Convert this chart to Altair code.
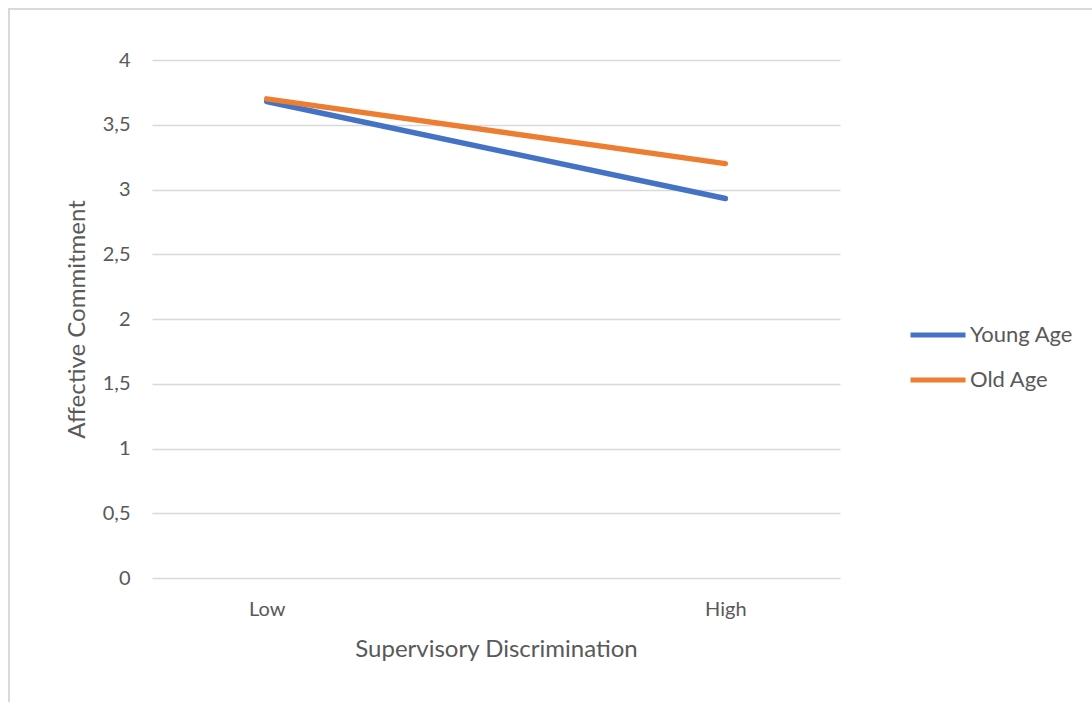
import altair as alt
import pandas as pd

# Supervisory discrimination x age interaction on affective commitment
levels = ["Low", "High"]
young_age = [3.68, 2.93]
old_age = [3.70, 3.20]
series_names = ["Young Age", "Old Age"]
series_colors = ["#4472C4", "#ED7D31"]
y_ticks = [0, 0.5, 1, 1.5, 2, 2.5, 3, 3.5, 4]

rows = []
for name, vals in zip(series_names, [young_age, old_age]):
    for lvl, v in zip(levels, vals):
        rows.append({"Discrimination": lvl, "Commitment": v, "Group": name})
df = pd.DataFrame(rows)

FONT = "Lato"
GREY = "#595959"
GRID = "#d9d9d9"

lines = alt.Chart(df).mark_line(strokeWidth=5.5, strokeCap="round").encode(
    x=alt.X(
        "Discrimination:N",
        sort=levels,
        scale=alt.Scale(type="point", padding=0.25),
        axis=alt.Axis(
            title="Supervisory Discrimination",
            labelAngle=0,
            labelPadding=21,
            titlePadding=18,
            ticks=False,
            domain=False,
            grid=False,
        ),
    ),
    y=alt.Y(
        "Commitment:Q",
        scale=alt.Scale(domain=[0, 4], nice=False),
        axis=alt.Axis(
            title="Affective Commitment",
            values=y_ticks,
            labelExpr="replace(toString(datum.value), '.', ',')",
            labelPadding=22,
            titlePadding=13,
            ticks=False,
            domain=False,
            grid=True,
            gridColor=GRID,
            gridWidth=1.5,
        ),
    ),
    color=alt.Color(
        "Group:N",
        sort=series_names,
        scale=alt.Scale(domain=series_names, range=series_colors),
        legend=alt.Legend(
            title=None,
            orient="none",
            legendX=756,
            legendY=245,
            symbolType="stroke",
            symbolSize=3025,
            symbolStrokeWidth=5,
            labelOffset=2,
            rowPadding=4,
        ),
    ),
    detail="Group:N",
)

# outer frame around the chart area
frame = alt.Chart(pd.DataFrame({"k": [0]})).mark_rect(
    fill=None, stroke="#d9d9d9", strokeWidth=2
).encode(
    x=alt.value(-143),
    x2=alt.value(960),
    y=alt.value(-51),
    y2=alt.value(700),
)

chart = (
    alt.layer(frame, lines)
    .properties(
        width=688,
        height=518,
        padding={"left": 152, "top": 60, "right": 252, "bottom": 124},
        autosize=alt.AutoSizeParams(type="none"),
        background="white",
    )
    .configure_view(stroke=None)
    .configure_axis(
        labelFont=FONT,
        titleFont=FONT,
        labelFontSize=20,
        titleFontSize=24,
        labelColor=GREY,
        titleColor=GREY,
        titleFontWeight="normal",
    )
    .configure_legend(labelFont=FONT, labelFontSize=22, labelColor=GREY)
)

chart.save("out.html", embed_options={"renderer": "svg", "actions": False})
